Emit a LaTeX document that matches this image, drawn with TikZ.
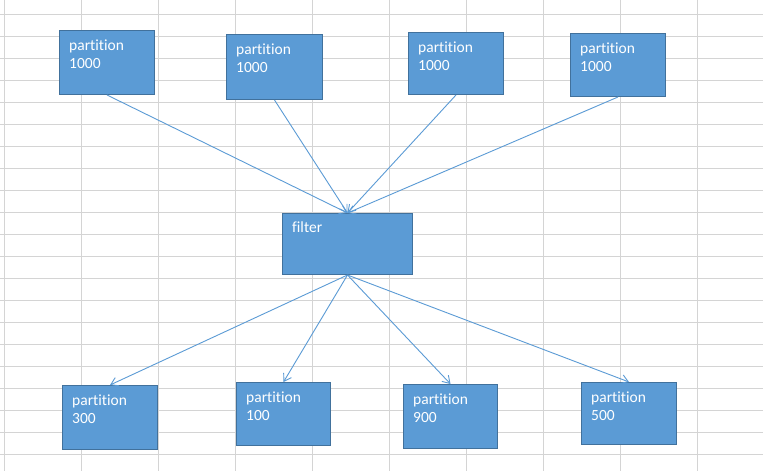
\documentclass[tikz,border=0pt]{standalone}
\usepackage{fontspec}
\setmainfont{Carlito}[Ligatures={NoCommon,NoContextual}]
\usetikzlibrary{arrows.meta}
\definecolor{boxfill}{HTML}{5B9BD5}
\definecolor{boxline}{HTML}{41719C}
\definecolor{conn}{HTML}{5B9BD5}
\definecolor{gridc}{HTML}{D4D4D4}
\tikzset{
  box/.style={draw=boxline, fill=boxfill, line width=1pt, anchor=north west, inner sep=0pt},
  lbl/.style={anchor=base west, inner sep=0pt, text=white, font=\fontsize{15.5}{18.3}\selectfont},
  conn/.style={draw=conn, line width=0.9pt, -{Straight Barb[length=7pt,width=9pt]}}
}
\newcommand{\twolines}[2]{\begin{tabular}[t]{@{}l@{}}#1\\#2\end{tabular}}
\begin{document}
\begin{tikzpicture}[x=1pt,y=-1pt]
\useasboundingbox (0,0) rectangle (763,471);
\fill[white] (0,0) rectangle (763,471);
% spreadsheet grid
\foreach \gx in {4,81,...,700} \draw[gridc, line width=1pt] (\gx,0) -- (\gx,471);
\foreach \gy in {14,36,...,460} \draw[gridc, line width=1pt] (0,\gy) -- (763,\gy);
% top boxes
\node[box, minimum width=95pt, minimum height=64pt] (b1) at (59,30) {};
\node[box, minimum width=96pt, minimum height=65pt] (b2) at (226,34) {};
\node[box, minimum width=95pt, minimum height=62pt] (b3) at (408,32) {};
\node[box, minimum width=95pt, minimum height=63pt] (b4) at (570,33) {};
% filter
\node[box, minimum width=130pt, minimum height=61pt] (f) at (282,213) {};
% bottom boxes
\node[box, minimum width=95pt, minimum height=64pt] (o1) at (62,385) {};
\node[box, minimum width=94pt, minimum height=63pt] (o2) at (236,382) {};
\node[box, minimum width=94pt, minimum height=64pt] (o3) at (403,384) {};
\node[box, minimum width=95pt, minimum height=62pt] (o4) at (581,382) {};
% labels
\node[lbl] (t1) at ([xshift=10pt,yshift=-20pt]b1.north west) {\twolines{partition}{1000}};
\node[lbl] (t2) at ([xshift=10pt,yshift=-20pt]b2.north west) {\twolines{partition}{1000}};
\node[lbl] (t3) at ([xshift=10pt,yshift=-20pt]b3.north west) {\twolines{partition}{1000}};
\node[lbl] (t4) at ([xshift=10pt,yshift=-20pt]b4.north west) {\twolines{partition}{1000}};
\node[lbl] (tf) at ([xshift=10pt,yshift=-19pt]f.north west) {filter};
\node[lbl] (u1) at ([xshift=10pt,yshift=-20pt]o1.north west) {\twolines{partition}{300}};
\node[lbl] (u2) at ([xshift=10pt,yshift=-20pt]o2.north west) {\twolines{partition}{100}};
\node[lbl] (u3) at ([xshift=10pt,yshift=-20pt]o3.north west) {\twolines{partition}{900}};
\node[lbl] (u4) at ([xshift=10pt,yshift=-20pt]o4.north west) {\twolines{partition}{500}};
% connectors
\foreach \s in {b1,b2,b3,b4} \draw[conn] (\s.south) -- (f.north);
\foreach \t in {o1,o2,o3,o4} \draw[conn] (f.south) -- (\t.north);
\end{tikzpicture}
\end{document}
